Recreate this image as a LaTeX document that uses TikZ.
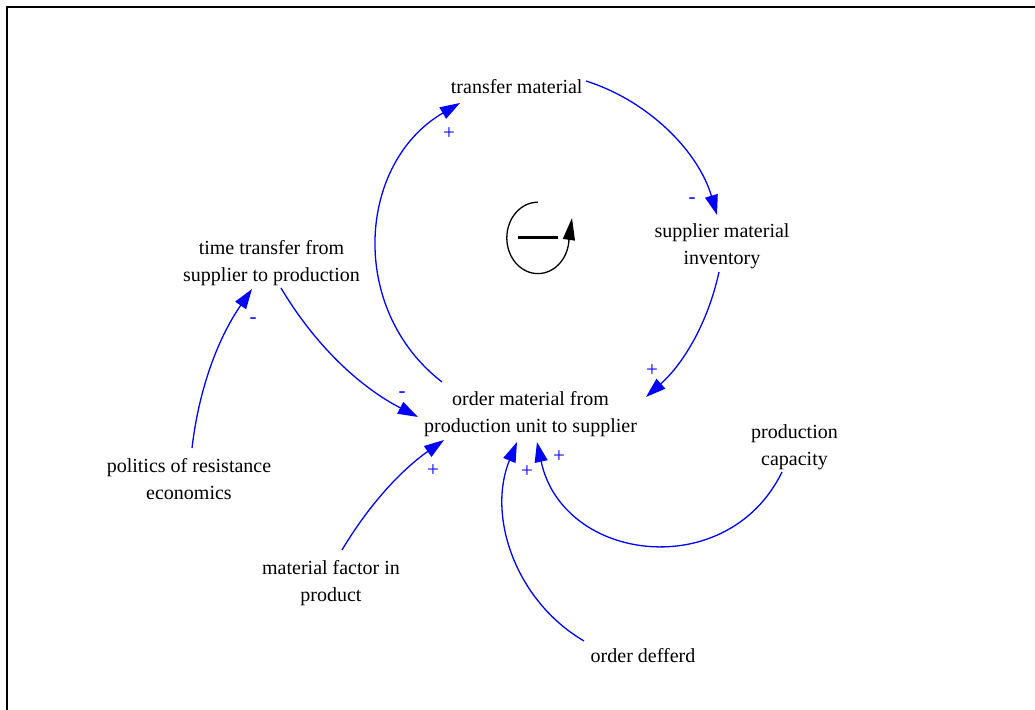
\documentclass[tikz,border=0pt]{standalone}
\usepackage{fontspec}
\setmainfont{Liberation Serif}
\usetikzlibrary{arrows.meta}

\tikzset{
  var/.style={font=\fontsize{20}{27}\selectfont, align=center, inner sep=0pt, text=black},
  link/.style={draw=blue, line width=1.3pt,
    -{Triangle[length=20pt,width=13pt]}},
  pol/.style={text=blue, font=\fontsize{21}{21}\selectfont, inner sep=0pt},
}

\begin{document}
\begin{tikzpicture}[x=1pt,y=1pt]
\useasboundingbox (0,0) rectangle (1035,709);
\fill[white] (0,0) rectangle (1035,709);

% sheet border
\draw[line width=2.2pt] (7.3,-5) -- (7.3,701.7) -- (1045,701.7);

% variables
\node[var] (tm)    at (516.7,622.5) {transfer material};
\node[var] (smi)   at (722,463)     {supplier material\\inventory};
\node[var] (ttf)   at (271.5,446)   {time transfer from\\supplier to production};
\node[var] (order) at (530.5,295)   {order material from\\production unit to supplier};
\node[var] (pc)    at (794.5,262)   {production\\capacity};
\node[var] (pol)   at (189,230)     {politics of resistance\\economics};
\node[var] (mf)    at (331,126)     {material factor in\\product};
\node[var] (od)    at (643,53)      {order defferd};

% causal links
\draw[link] ([shift={(-88.5,32)}]order.center) to[bend left=56, looseness=1.09]
  ([shift={(-56.7,-16.5)}]tm.center);
\draw[link] ([shift={(69.3,5.5)}]tm.center) to[bend left=28, looseness=0.9]
  ([shift={(-5,31)}]smi.center);
\draw[link] ([shift={(-3,-26)}]smi.center) to[bend left=18, looseness=0.9]
  ([shift={(115.5,17)}]order.center);
\draw[link] ([shift={(9.5,-25)}]ttf.center) to[bend right=16, looseness=0.9]
  ([shift={(-112.5,-3)}]order.center);
\draw[link] ([shift={(3,31)}]pol.center) to[bend left=14, looseness=0.9]
  ([shift={(-19.5,-26)}]ttf.center);
\draw[link] ([shift={(11,33)}]mf.center) to[bend left=12, looseness=0.9]
  ([shift={(-86.5,-26)}]order.center);
\draw[link] ([shift={(-59,15)}]od.center) to[bend left=41, looseness=0.97]
  ([shift={(-13.5,-28)}]order.center);
\draw[link] ([shift={(-12.5,-25)}]pc.center) to[bend left=71, looseness=1.285]
  ([shift={(6.5,-28)}]order.center);

% link polarities
\node[pol] (p1) at (449,575) {+};
\node[pol] (p2) at (692,508) {-};
\node[pol] (p3) at (652,338) {+};
\node[pol] (p4) at (402,314) {-};
\node[pol] (p5) at (253,388) {-};
\node[pol] (p6) at (433,238) {+};
\node[pol] (p7) at (527,237) {+};
\node[pol] (p8) at (559,252) {+};

% balancing loop marker
\draw[line width=1.3pt] (537.9,506.8) arc[start angle=90, end angle=360, x radius=31.1pt, y radius=35.7pt];
\draw[line width=1.3pt, -{Triangle[length=22pt,width=12pt]}] (569,470) -- (572,491);
\draw[line width=3pt] (518,471) -- (558,471);
\end{tikzpicture}
\end{document}
